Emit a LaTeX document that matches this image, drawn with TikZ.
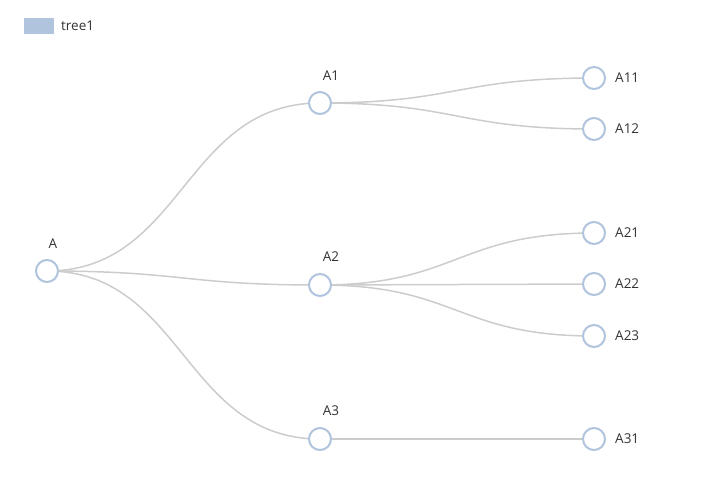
\documentclass[tikz,border=0pt]{standalone}
\usepackage{fontspec}
\setmainfont{Open Sans}
\usetikzlibrary{calc}
\definecolor{nodeblue}{HTML}{B0C4DE}
\definecolor{edgegray}{HTML}{CCCCCC}
\definecolor{txt}{HTML}{333333}
\begin{document}
\begin{tikzpicture}[x=1pt,y=-1pt,
  tnode/.style={circle,draw=nodeblue,line width=2pt,fill=white,minimum size=22pt,inner sep=0pt},
  lbl/.style={text=txt,font=\fontsize{13.5}{15}\selectfont,inner sep=0pt},
  edge/.style={draw=edgegray,line width=1.5pt}]
\useasboundingbox (0,0) rectangle (709,483);
% legend
\node[fill=nodeblue,minimum width=30pt,minimum height=16pt,inner sep=0pt,anchor=north west] (leg) at (24,18) {};
\node[lbl,anchor=west] (legt) at (61,26) {tree1};
% node coordinates
\coordinate (cA) at (47,271);
\coordinate (cA1) at (320,103);
\coordinate (cA2) at (320,285);
\coordinate (cA3) at (320,439);
\coordinate (cA11) at (594,78);
\coordinate (cA12) at (594,129);
\coordinate (cA21) at (594,233);
\coordinate (cA22) at (594,284);
\coordinate (cA23) at (594,336);
\coordinate (cA31) at (594,439);
% edges
\foreach \src/\dst in {A/A1,A/A2,A/A3,A1/A11,A1/A12,A2/A21,A2/A22,A2/A23,A3/A31}{
  \path let \p1=(c\src), \p2=(c\dst) in
    [edge] (\p1) .. controls ({0.5*\x1+0.5*\x2},\y1) and ({0.5*\x1+0.5*\x2},\y2) .. (\p2);
}
% nodes
\foreach \n in {A,A1,A2,A3,A11,A12,A21,A22,A23,A31}{
  \node[tnode] (\n) at (c\n) {};
}
% labels
\node[lbl] (lA) at (53,244) {A};
\node[lbl] (lA1) at (331,76) {A1};
\node[lbl] (lA2) at (331,257) {A2};
\node[lbl] (lA3) at (331,411) {A3};
\foreach \n in {A11,A12,A21,A22,A23,A31}{
  \node[lbl,anchor=west] (l\n) at ([xshift=21pt]c\n) {\n};
}
\end{tikzpicture}
\end{document}
